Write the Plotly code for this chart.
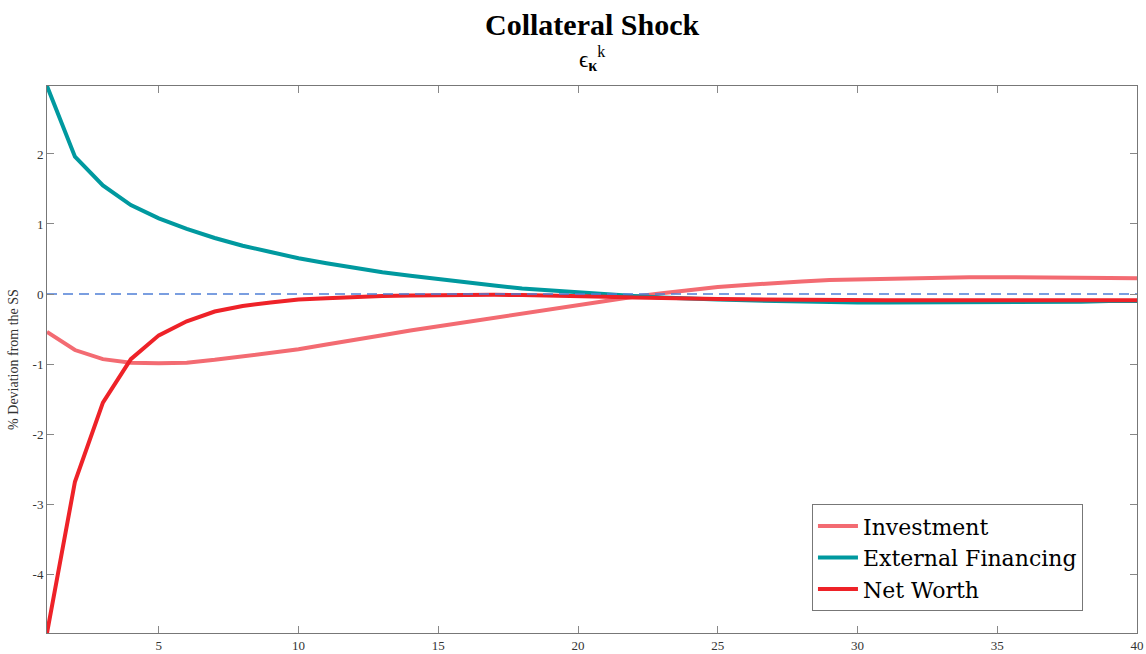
import plotly.graph_objects as go

periods = list(range(1, 41))

investment = [-0.54, -0.80, -0.93, -0.98, -0.99, -0.98, -0.94, -0.89, -0.84, -0.79,
              -0.72, -0.66, -0.59, -0.52, -0.46, -0.39, -0.33, -0.27, -0.21, -0.15,
              -0.10, -0.04, 0.01, 0.06, 0.10, 0.13, 0.16, 0.18, 0.20, 0.21,
              0.22, 0.23, 0.235, 0.24, 0.24, 0.24, 0.24, 0.235, 0.23, 0.225]

external_financing = [2.97, 1.96, 1.55, 1.27, 1.08, 0.93, 0.80, 0.69, 0.60, 0.51,
                      0.44, 0.37, 0.31, 0.26, 0.21, 0.16, 0.12, 0.08, 0.05, 0.02,
                      -0.01, -0.03, -0.05, -0.07, -0.08, -0.09, -0.10, -0.11, -0.11, -0.12,
                      -0.12, -0.12, -0.12, -0.12, -0.12, -0.11, -0.11, -0.11, -0.10, -0.10]

net_worth = [-4.84, -2.68, -1.55, -0.93, -0.59, -0.39, -0.25, -0.17, -0.12, -0.08,
             -0.06, -0.04, -0.03, -0.02, -0.015, -0.01, -0.01, -0.015, -0.02, -0.03,
             -0.04, -0.05, -0.06, -0.065, -0.07, -0.075, -0.08, -0.085, -0.09, -0.09,
             -0.09, -0.09, -0.09, -0.09, -0.09, -0.09, -0.09, -0.09, -0.09, -0.09]

steady_state = [0.0] * len(periods)

x_tickvals = [5, 10, 15, 20, 25, 30, 35, 40]
x_ticktext = ["5", "10", "15", "20", "25", "30", "35", "40"]
y_tickvals = [-4, -3, -2, -1, 0, 1, 2]
y_ticktext = ["-4", "-3", "-2", "-1", "0", "1", "2"]

SERIF = "Liberation Serif"

fig = go.Figure()
fig.add_trace(go.Scatter(x=periods, y=investment, mode="lines", name="Investment",
                         line=dict(color="#F36B72", width=4)))
fig.add_trace(go.Scatter(x=periods, y=external_financing, mode="lines", name="External Financing",
                         line=dict(color="#00999F", width=4)))
fig.add_trace(go.Scatter(x=periods, y=net_worth, mode="lines", name="Net Worth",
                         line=dict(color="#EE2228", width=4)))
fig.add_trace(go.Scatter(x=periods, y=steady_state, mode="lines", showlegend=False,
                         line=dict(color="#4F7FD6", width=1.5, dash="10px,6px"), hoverinfo="skip"))

axis_common = dict(showline=True, linecolor="#777777", linewidth=1, mirror="ticks",
                   ticks="inside", ticklen=7, tickcolor="#888888", showgrid=False,
                   zeroline=False, automargin=False,
                   tickfont=dict(family=SERIF, size=13, color="#333333"))

fig.update_layout(
    width=1146, height=654,
    paper_bgcolor="white", plot_bgcolor="white",
    margin=dict(l=47, r=9, t=86, b=21),
    xaxis=dict(range=[1, 40], tickvals=x_tickvals, ticktext=x_ticktext, **axis_common),
    yaxis=dict(range=[-4.84, 2.97], tickvals=y_tickvals, ticktext=y_ticktext,
               title=dict(text="% Deviation from the SS", font=dict(family=SERIF, size=14, color="#333333"),
                          standoff=10),
               **axis_common),
    legend=dict(x=0.7018, y=0.04, xanchor="left", yanchor="bottom",
                bgcolor="white", bordercolor="#777777", borderwidth=1,
                font=dict(family="DejaVu Serif", size=22, color="black"),
                itemwidth=40, tracegroupgap=0),
    showlegend=True,
)
fig.add_annotation(text="<b>Collateral Shock</b>", xref="paper", yref="paper",
                   x=0.5, y=1.0 + 62 / 547, yanchor="middle", showarrow=False,
                   font=dict(family=SERIF, size=30, color="black"))
fig.add_annotation(text="ϵ<sub><b>κ</b></sub><sup>k</sup>", xref="paper", yref="paper",
                   x=0.5, y=1.0 + 28 / 547, yanchor="middle", showarrow=False,
                   font=dict(family=SERIF, size=23, color="black"))

fig.write_html("out.html")
